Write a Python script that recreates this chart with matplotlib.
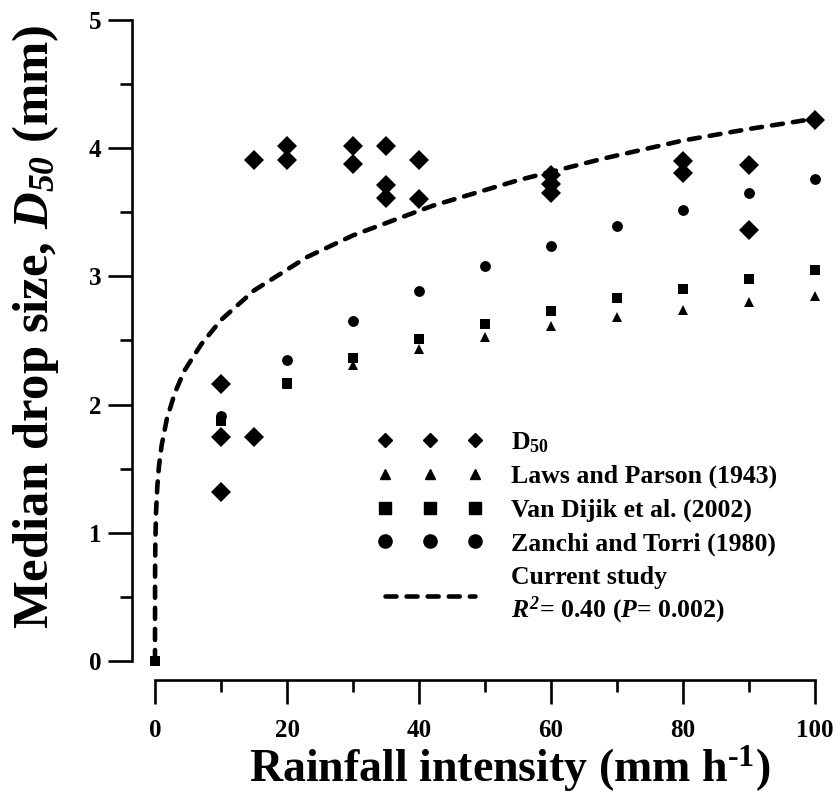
import numpy as np
import matplotlib.pyplot as plt
from matplotlib.lines import Line2D

plt.rcParams['font.family'] = 'Liberation Serif'
plt.rcParams['font.weight'] = 'bold'
plt.rcParams['axes.labelweight'] = 'bold'
plt.rcParams['mathtext.fontset'] = 'custom'
plt.rcParams['mathtext.rm'] = 'Liberation Serif:bold'
plt.rcParams['mathtext.it'] = 'Liberation Serif:italic:bold'
plt.rcParams['mathtext.bf'] = 'Liberation Serif:bold'
plt.rcParams['mathtext.cal'] = 'Liberation Serif:italic:bold'   # used for italic digits

# measured median drop size
d50_i = [10, 10, 10, 15, 15, 20, 20, 30, 30, 35, 35, 35, 40, 40, 60, 60, 60, 80, 80, 90, 90, 100]
d50_v = [2.16, 1.75, 1.32, 3.91, 1.75, 4.02, 3.91, 4.02, 3.88, 4.02, 3.71, 3.61, 3.91, 3.60,
         3.79, 3.72, 3.65, 3.90, 3.81, 3.87, 3.36, 4.22]
# literature relations
ref_i = [0, 10, 20, 30, 40, 50, 60, 70, 80, 90, 100]
laws_v = [0, 1.87, 2.16, 2.31, 2.435, 2.53, 2.61, 2.68, 2.74, 2.80, 2.85]
vandijk_v = [0, 1.875, 2.17, 2.365, 2.51, 2.63, 2.73, 2.83, 2.905, 2.98, 3.05]
zanchi_i = [10, 20, 30, 40, 50, 60, 70, 80, 90, 100]
zanchi_v = [1.91, 2.35, 2.65, 2.885, 3.08, 3.24, 3.39, 3.52, 3.65, 3.76]
# fitted curve of this study
fit_i = [0, 0.01, 0.05, 0.15, 0.35, 0.6, 1, 1.8, 3, 4.4, 7, 10, 15, 23, 30, 42, 55, 68, 80, 90, 100]
fit_v = [0, 0.67, 0.92, 1.15, 1.36, 1.52, 1.68, 1.89, 2.09, 2.26, 2.47, 2.66, 2.89, 3.15,
         3.32, 3.55, 3.75, 3.92, 4.06, 4.15, 4.23]

fig = plt.figure(figsize=(8.38, 7.93), dpi=100)
ax = fig.add_axes([155/838, 132/793, 660/838, 641/793])

dash = (0, (2.4, 2.2))
ax.plot(fit_i, fit_v, color='k', lw=3.3, ls=dash, dash_capstyle='round',
        clip_on=False, zorder=2)
ax.plot(ref_i, laws_v, '^k', ms=7, mew=0, clip_on=False, zorder=3)
ax.plot(ref_i, vandijk_v, 'sk', ms=7.2, mew=0, clip_on=False, zorder=4)
ax.plot(zanchi_i, zanchi_v, 'ok', ms=7.8, mew=0, clip_on=False, zorder=5)
ax.plot(d50_i, d50_v, 'Dk', ms=10, mew=0, clip_on=False, zorder=6)

ax.set_xlim(0, 100); ax.set_ylim(0, 5)
ax.set_xticks(np.arange(0, 101, 20)); ax.set_xticks(np.arange(10, 100, 20), minor=True)
ax.set_yticks(np.arange(0, 6, 1)); ax.set_yticks(np.arange(0.5, 5, 1), minor=True)
for s in ['top', 'right']:
    ax.spines[s].set_visible(False)
ax.spines['left'].set_position(('outward', 16.6))
ax.spines['bottom'].set_position(('outward', 13.7))
for s in ['left', 'bottom']:
    ax.spines[s].set_linewidth(1.9)
ax.tick_params(which='major', length=17, width=1.9, labelsize=18)
ax.tick_params(which='minor', length=8.6, width=1.9)
ax.tick_params(axis='x', which='major', pad=11)
ax.tick_params(axis='y', which='major', pad=5)

ax.set_xlabel('Rainfall intensity (mm h$^{\\text{-1}}$)', fontsize=33, labelpad=1)
ax.set_ylabel('Median drop size, $D_{\\mathcal{50}}$ (mm)', fontsize=36.5, labelpad=20)
ax.xaxis.label.set_x(0.538)
ax.yaxis.label.set_y(0.521)

handles = [Line2D([], [], color='k', marker='D', ms=6.8, ls='none'),
           Line2D([], [], color='k', marker='^', ms=7.5, ls='none'),
           Line2D([], [], color='k', marker='s', ms=9, ls='none'),
           Line2D([], [], color='k', marker='o', ms=9.5, ls='none'),
           Line2D([], [], color='k', lw=3.3, ls=dash, dash_capstyle='round')]
labels = ['D$_{50}$', 'Laws and Parson (1943)', 'Van Dijik et al. (2002)',
          'Zanchi and Torri (1980)', 'Current study\n$R^{\\mathcal{2}}$= 0.40 ($P$= 0.002)']
leg = ax.legend(handles, labels, numpoints=3, frameon=False, fontsize=18.5,
                loc='upper left', bbox_to_anchor=(377/838, 1 - 430/793),
                bbox_transform=fig.transFigure, borderpad=0, borderaxespad=0,
                handlelength=4.1, handletextpad=1.13, labelspacing=0.40)
leg.get_texts()[-1].set_linespacing(1.25)

fig.savefig('out.png', dpi=100)
